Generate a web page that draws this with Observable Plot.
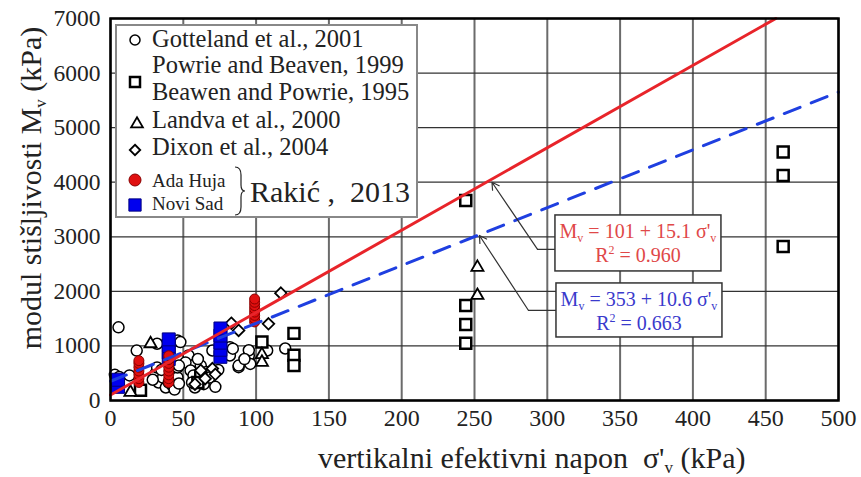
<!DOCTYPE html>
<html><head><meta charset="utf-8">
<script src="https://cdn.jsdelivr.net/npm/d3@7"></script>
<script src="https://cdn.jsdelivr.net/npm/@observablehq/plot@0.6"></script>
<style>
body{margin:0;background:#fff;}
#wrap{width:861px;height:477px;}
</style></head><body><div id="wrap"></div>
<script>
// ---- data ----
const xTicks = [0,50,100,150,200,250,300,350,400,450,500];
const yTicks = [0,1000,2000,3000,4000,5000,6000,7000];

const gotteland = [[5.5,1340],[3,470],[6,430],[13,460],[18,915],[32,1040],[46,1100],[48,1070],
  [31,495],[33,330],[38,238],[42.5,275],[46,422],[46,605],[32,605],[36,420],[40,330],[44,200],[29,380],[35,560],
  [53.6,825],[51.5,697],[55,550],[60,367],[58,238],[57,460],[62,640],[64,300],[66,520],[68,420],[70,916],[72,250],[74,560],[60,760],[56,330],
  [82,977],[82,825],[88,611],[95,733],[95,825],[107.6,916],[120,953],[95,920],[84,950],[96,670],[88,640],[92,760],[47,640],[47,311]];
const powrie = [[20.6,190],[62,450],[60,330],[104,1070],[126,1230],[126,830],[126,642],[244,3666],[244,1741],[244,1393],[244,1050],[462,4552],[462,4124],[462,2822]];
const landva = [[13.7,150],[27.5,1040],[104,840],[104,700],[252,2440],[252,1925]];
const dixon = [[83,1417],[88,1283],[108.5,1405],[117,1967],[62,550],[70,585],[58,300],[65,400],[72,480]];
const adaHuja = [[19.5,330],[19.5,400],[19.5,470],[19.5,540],[19.5,610],[19.5,680],[19.5,730],
  [40,330],[40,400],[40,470],[40,540],[40,610],[40,680],[40,750],[40,820],
  [99,1440],[99,1500],[99,1560],[99,1620],[99,1680],[99,1740],[99,1800],[99,1860]];
const noviSad = [[5.2,250],[5.2,380],[40,760],[40,880],[40,1000],[40,1120],[75.5,800],[75.5,930],[75.5,1060],[75.5,1190],[75.5,1320]];

// regression fits: M = a + b*sigma
const fits = [
  {name:"Rakić", a:101, b:15.1, xStart:0, xEnd:456.95, r2:"0.960", color:"#e8242a", text:"#e04848"},
  {name:"all", a:353, b:10.6, xStart:0, xEnd:500, r2:"0.663", color:"#1f3fe0", text:"#3a3acc"}
];
// annotation boxes & leaders in data units
const annot = [
  {tipX:262, tipY:4000, elbowX:293.3, elbowY:2768, edgeX:305.6, x1:305.6, x2:419.6, y1:2365, y2:3391},
  {tipX:253.4, tipY:3024, elbowX:287.1, elbowY:1650, edgeX:306.3, x1:306.3, x2:420.3, y1:1155, y2:2145}
];

const toObj = a => a.map(([x,y]) => ({x,y}));
const lineData = fits.flatMap((f,i) => [{i, x:f.xStart, y:f.a+f.b*f.xStart},{i, x:f.xEnd, y:f.a+f.b*f.xEnd}]);

const plot = Plot.plot({
  width:861, height:477,
  marginLeft:110, marginRight:23, marginTop:18, marginBottom:77,
  x:{domain:[0,500]}, y:{domain:[0,7000]},
  style:{fontFamily:"'Liberation Serif','Times New Roman',serif", background:"white", color:"#222"},
  marks:[
    Plot.gridX(xTicks,{stroke:"#6b6b6b", strokeWidth:2, strokeOpacity:1}),
    Plot.gridY(yTicks,{stroke:"#333", strokeWidth:1.3, strokeOpacity:1}),
    Plot.axisX(xTicks,{tickSize:0, tickPadding:8, label:null, fontSize:24, tickFormat:d=>String(d)}),
    Plot.axisY(yTicks,{tickSize:0, tickPadding:10, label:null, fontSize:23.5, tickFormat:d=>String(d)}),
    Plot.dot(toObj(gotteland),{x:"x",y:"y",r:5.5,symbol:"circle",stroke:"black",strokeWidth:1.5,fill:"white"}),
    Plot.dot(toObj(powrie),{x:"x",y:"y",r:6.2,symbol:"square",stroke:"black",strokeWidth:2.5,fill:"white"}),
    Plot.dot(toObj(landva),{x:"x",y:"y",r:4.5,symbol:"triangle",stroke:"black",strokeWidth:1.8,fill:"white"}),
    Plot.dot(toObj(dixon),{x:"x",y:"y",r:5.2,symbol:"diamond2",stroke:"black",strokeWidth:1.8,fill:"white"}),
    Plot.dot(toObj(noviSad),{x:"x",y:"y",r:7.3,symbol:"square",stroke:"#000080",strokeWidth:1,fill:"#0000ee"}),
    Plot.dot(toObj(adaHuja),{x:"x",y:"y",r:5,symbol:"circle",stroke:"#8a0000",strokeWidth:1,fill:"#e01010"}),
    Plot.line(lineData.filter(d=>d.i===1),{x:"x",y:"y",stroke:fits[1].color,strokeWidth:3,strokeDasharray:"17,12"}),
    Plot.line(lineData.filter(d=>d.i===0),{x:"x",y:"y",stroke:fits[0].color,strokeWidth:3}),
    Plot.line(annot.flatMap((a,i)=>[{i,x:a.edgeX,y:a.elbowY},{i,x:a.elbowX,y:a.elbowY}]),{x:"x",y:"y",z:"i",stroke:"#333",strokeWidth:1.2}),
    Plot.arrow(annot,{x1:"elbowX",y1:"elbowY",x2:"tipX",y2:"tipY",stroke:"#333",strokeWidth:1.2,headLength:10,bend:0}),
    Plot.rect(annot,{x1:"x1",x2:"x2",y1:"y1",y2:"y2",fill:"white",stroke:"#333",strokeWidth:1.5}),
    Plot.frame({stroke:"black", strokeWidth:2.5})
  ]
});
document.getElementById("wrap").appendChild(plot);

const svg = d3.select(plot);
const X = plot.scale("x"), Y = plot.scale("y");
const serif = "'Liberation Serif','Times New Roman',serif";

// annotation texts
fits.forEach((f,i) => {
  const a = annot[i];
  const cx = (X.apply(a.x1)+X.apply(a.x2))/2;
  const top = Y.apply(a.y2);
  const t1 = svg.append("text").attr("x",cx).attr("y",top+23).attr("text-anchor","middle")
    .attr("font-family",serif).attr("font-size",20).attr("fill",f.text);
  t1.append("tspan").text("M");
  t1.append("tspan").attr("font-size",12).attr("dy",4).text("v");
  t1.append("tspan").attr("dy",-4).text(` = ${f.a} + ${f.b} σ'`);
  t1.append("tspan").attr("font-size",12).attr("dy",4).text("v");
  const t2 = svg.append("text").attr("x",cx).attr("y",top+47).attr("text-anchor","middle")
    .attr("font-family",serif).attr("font-size",20).attr("fill",f.text);
  t2.append("tspan").text("R");
  t2.append("tspan").attr("font-size",12).attr("dy",-8).text("2");
  t2.append("tspan").attr("dy",8).text(` = ${f.r2}`);
});

// axis titles
const yl = svg.append("text").attr("transform","translate(41,188) rotate(-90)").attr("text-anchor","middle")
  .attr("font-family",serif).attr("font-size",30).attr("fill","#222");
yl.append("tspan").text("modul stišljivosti M");
yl.append("tspan").attr("font-size",17).attr("dy",5).text("v");
yl.append("tspan").attr("dy",-5).text(" (kPa)");
const xl = svg.append("text").attr("x",318).attr("y",468).attr("text-anchor","start")
  .attr("font-family",serif).attr("font-size",30).attr("fill","#222");
xl.append("tspan").text("vertikalni efektivni napon  σ'");
xl.append("tspan").attr("font-size",17).attr("dy",5).text("v");
xl.append("tspan").attr("dy",-5).text(" (kPa)");

// legend
const legendItems = [
  {sym:d3.symbolCircle, size:Math.PI*25, cx:135, cy:40, fill:"white", stroke:"black", sw:1.5},
  {sym:d3.symbolSquare, size:100, cx:135, cy:82, fill:"white", stroke:"black", sw:2.5},
  {sym:d3.symbolTriangle, size:60, cx:137, cy:124, fill:"white", stroke:"black", sw:1.8},
  {sym:d3.symbolDiamond2, size:70, cx:135, cy:150, fill:"white", stroke:"black", sw:1.8},
  {sym:d3.symbolCircle, size:Math.PI*36, cx:135, cy:180, fill:"#e01010", stroke:"#8a0000", sw:1},
  {sym:d3.symbolSquare, size:150, cx:135, cy:205, fill:"#0000ee", stroke:"#000080", sw:1}
];
const legendTexts = [
  {t:"Gotteland et al., 2001", y:47, fs:24.5},
  {t:"Powrie and Beaven, 1999", y:73, fs:24.5},
  {t:"Beawen and Powrie, 1995", y:100, fs:24.5},
  {t:"Landva et al., 2000", y:128, fs:24.5},
  {t:"Dixon et al., 2004", y:155, fs:24.5},
  {t:"Ada Huja", y:187, fs:19},
  {t:"Novi Sad", y:210, fs:19}
];
const lg = svg.append("g").attr("text-anchor","start");
lg.append("rect").attr("x",116).attr("y",25).attr("width",301).attr("height",192)
  .attr("fill","white").attr("stroke","#888").attr("stroke-width",2);
legendItems.forEach(s => {
  lg.append("path").attr("d",d3.symbol(s.sym,s.size)()).attr("transform",`translate(${s.cx},${s.cy})`)
    .attr("fill",s.fill).attr("stroke",s.stroke).attr("stroke-width",s.sw);
});
legendTexts.forEach(d => {
  lg.append("text").attr("x",152).attr("y",d.y).attr("text-anchor","start").attr("font-family",serif)
    .attr("font-size",d.fs).attr("fill","#222").text(d.t);
});
lg.append("path").attr("d","M235,167 Q241,167 241,175 L241,185 Q241,191 245,191 Q241,191 241,197 L241,207 Q241,215 235,215")
  .attr("fill","none").attr("stroke","#222").attr("stroke-width",1.2);
lg.append("text").attr("x",250).attr("y",202).attr("text-anchor","start").attr("font-family",serif)
  .attr("font-size",30).attr("fill","#222").text("Rakić ,  2013");
</script></body></html>
